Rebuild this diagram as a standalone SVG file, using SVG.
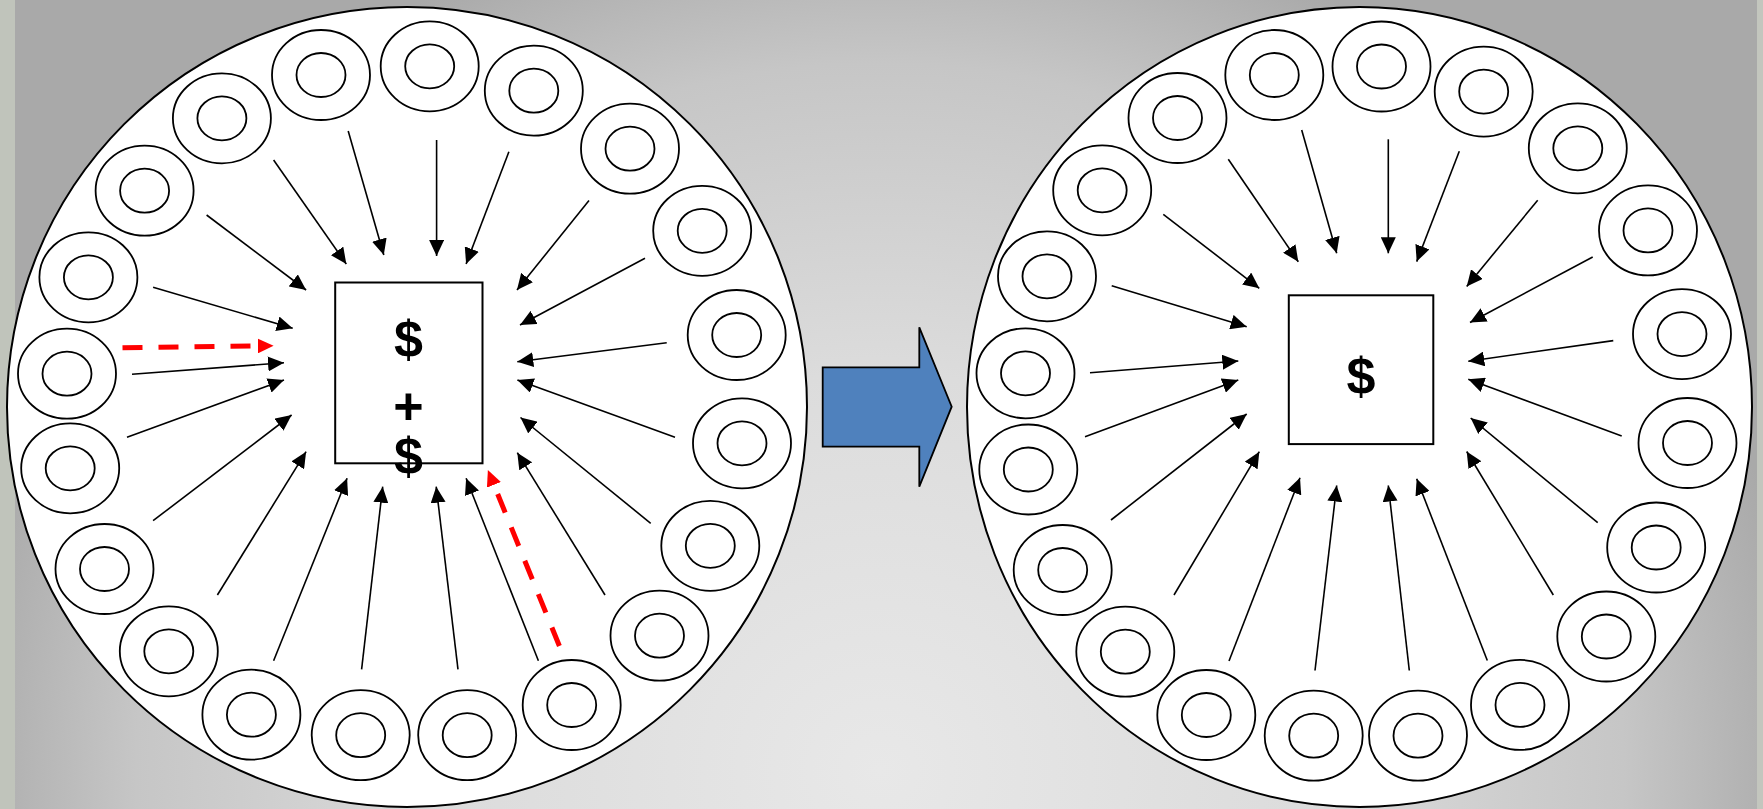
<svg xmlns="http://www.w3.org/2000/svg" xmlns:xlink="http://www.w3.org/1999/xlink" width="1763" height="809" viewBox="0 0 1763 809">
  <style>
    .disc { fill: #ffffff; stroke: #000000; stroke-width: 2; }
    .ring ellipse { fill: #ffffff; stroke: #000000; stroke-width: 1.8; }
    .box { fill: #ffffff; stroke: #000000; stroke-width: 2; }
    .arrow { stroke: #000000; stroke-width: 1.6; fill: none; marker-end: url(#ah); }
    .flow { stroke: #ff0000; stroke-width: 5; stroke-dasharray: 20 16; fill: none; marker-end: url(#ah-red); }
    .label { font-family: "Liberation Sans", Arial, sans-serif; font-weight: bold; font-size: 52px; fill: #000000; text-anchor: middle; }
    .shift { fill: #4f81bd; stroke: #000000; stroke-width: 1.8; stroke-linejoin: miter; }
  </style>
  <defs>
    <radialGradient id="bgGrad" gradientUnits="userSpaceOnUse" cx="880" cy="770" r="930" gradientTransform="translate(880 770) scale(1 0.95) translate(-880 -770)">
      <stop offset="0" stop-color="#e8e8e8"/>
      <stop offset="0.45" stop-color="#dcdcdc"/>
      <stop offset="0.8" stop-color="#c6c6c6"/>
      <stop offset="1" stop-color="#a9a9a9"/>
    </radialGradient>
    <marker id="ah" viewBox="0 0 16 15" refX="16" refY="7.5" markerWidth="16" markerHeight="15" markerUnits="userSpaceOnUse" orient="auto">
      <path d="M0,0 L16,7.5 L0,15 z" fill="#000000"/>
    </marker>
    <marker id="ah-red" viewBox="0 0 16 15" refX="4" refY="7.5" markerWidth="16" markerHeight="15" markerUnits="userSpaceOnUse" orient="auto">
      <path d="M0,0 L16,7.5 L0,15 z" fill="#ff0000"/>
    </marker>
    <g id="ring" class="ring">
      <ellipse cx="0" cy="0" rx="49" ry="45"/>
      <ellipse cx="0" cy="0" rx="24.5" ry="22"/>
    </g>
  </defs>

  <!-- backdrop -->
  <rect x="0" y="0" width="1763" height="809" fill="url(#bgGrad)"/>
  <rect x="0" y="0" width="15" height="809" fill="#c0c4bb"/>
  <rect x="1757" y="0" width="6" height="809" fill="#c3c6be"/>

  <!-- before: two amounts held in the middle -->
  <g id="left-disc">
    <ellipse class="disc" cx="407" cy="407" rx="400" ry="400"/>
  </g>
  <g id="left-rings">
    <g id="l-ring-01"><use xlink:href="#ring" x="67" y="373.7"/></g>
    <g id="l-ring-02"><use xlink:href="#ring" x="88.4" y="277.3"/></g>
    <g id="l-ring-03"><use xlink:href="#ring" x="144.6" y="190.7"/></g>
    <g id="l-ring-04"><use xlink:href="#ring" x="221.9" y="118.3"/></g>
    <g id="l-ring-05"><use xlink:href="#ring" x="321" y="75"/></g>
    <g id="l-ring-06"><use xlink:href="#ring" x="429.7" y="66.3"/></g>
    <g id="l-ring-07"><use xlink:href="#ring" x="533.8" y="90.7"/></g>
    <g id="l-ring-08"><use xlink:href="#ring" x="630" y="148.7"/></g>
    <g id="l-ring-09"><use xlink:href="#ring" x="702.2" y="230.8"/></g>
    <g id="l-ring-10"><use xlink:href="#ring" x="736.7" y="335"/></g>
    <g id="l-ring-11"><use xlink:href="#ring" x="742" y="443.3"/></g>
    <g id="l-ring-12"><use xlink:href="#ring" x="710.3" y="545.8"/></g>
    <g id="l-ring-13"><use xlink:href="#ring" x="659.5" y="635.7"/></g>
    <g id="l-ring-14"><use xlink:href="#ring" x="571.7" y="705"/></g>
    <g id="l-ring-15"><use xlink:href="#ring" x="467.2" y="735.2"/></g>
    <g id="l-ring-16"><use xlink:href="#ring" x="360.7" y="735.2"/></g>
    <g id="l-ring-17"><use xlink:href="#ring" x="251.4" y="714.7"/></g>
    <g id="l-ring-18"><use xlink:href="#ring" x="168.8" y="651.3"/></g>
    <g id="l-ring-19"><use xlink:href="#ring" x="104.5" y="569"/></g>
    <g id="l-ring-20"><use xlink:href="#ring" x="70.2" y="468.3"/></g>
  </g>
  <g id="left-box">
    <rect class="box" x="335.2" y="282.5" width="147.3" height="180.8"/>
    <text class="label" x="408.5" y="357"><tspan x="408.5" y="357">$</tspan><tspan x="408.5" y="423.5">+</tspan><tspan x="408.5" y="473.5">$</tspan></text>
  </g>
  <g id="left-connectors">
    <line class="arrow" x1="206.6" y1="215" x2="306.1" y2="290"/>
    <line class="arrow" x1="273.6" y1="160" x2="346.3" y2="264"/>
    <line class="arrow" x1="348.2" y1="131" x2="383.8" y2="255"/>
    <line class="arrow" x1="436.6" y1="140" x2="436.6" y2="256"/>
    <line class="arrow" x1="508.9" y1="151.7" x2="466.1" y2="264"/>
    <line class="arrow" x1="589" y1="200.5" x2="517" y2="290"/>
    <line class="arrow" x1="645" y1="258.3" x2="520" y2="325"/>
    <line class="arrow" x1="666.7" y1="342.7" x2="517.3" y2="361.7"/>
    <line class="arrow" x1="675" y1="437.3" x2="517.4" y2="380"/>
    <line class="arrow" x1="650.7" y1="523.3" x2="520.5" y2="417.5"/>
    <line class="arrow" x1="605" y1="595" x2="517.3" y2="452.7"/>
    <line class="arrow" x1="538.4" y1="660.7" x2="466.1" y2="478.3"/>
    <line class="arrow" x1="458" y1="669.3" x2="436.2" y2="486.7"/>
    <line class="arrow" x1="361.6" y1="669.3" x2="382.7" y2="486.7"/>
    <line class="arrow" x1="273.6" y1="660.7" x2="347.1" y2="478.3"/>
    <line class="arrow" x1="217.4" y1="595" x2="306.1" y2="451.7"/>
    <line class="arrow" x1="153.1" y1="520.7" x2="291.6" y2="415"/>
    <line class="arrow" x1="127" y1="437.3" x2="284" y2="380"/>
    <line class="arrow" x1="132" y1="374.3" x2="284" y2="362.7"/>
    <line class="arrow" x1="153.1" y1="287.3" x2="292.7" y2="328.3"/>
    <line class="flow" x1="122.5" y1="347.7" x2="261.6" y2="345.9"/>
    <line class="flow" x1="559.4" y1="646" x2="492.4" y2="481.1"/>
  </g>

  <!-- transition -->
  <g id="shift-arrow">
    <polygon class="shift" points="822.7,367.3 919.3,367.3 919.3,327.3 951.7,406.7 919.3,486.7 919.3,446.7 822.7,446.7"/>
  </g>

  <!-- after: a single amount held in the middle -->
  <g id="right-disc">
    <ellipse class="disc" cx="1359.5" cy="407" rx="392.5" ry="400"/>
  </g>
  <g id="right-rings">
    <g id="r-ring-01"><use xlink:href="#ring" x="1025.5" y="373.3"/></g>
    <g id="r-ring-02"><use xlink:href="#ring" x="1047" y="276.3"/></g>
    <g id="r-ring-03"><use xlink:href="#ring" x="1102.2" y="190.3"/></g>
    <g id="r-ring-04"><use xlink:href="#ring" x="1177.5" y="118"/></g>
    <g id="r-ring-05"><use xlink:href="#ring" x="1274.3" y="75"/></g>
    <g id="r-ring-06"><use xlink:href="#ring" x="1381.5" y="66.5"/></g>
    <g id="r-ring-07"><use xlink:href="#ring" x="1483.7" y="91.6"/></g>
    <g id="r-ring-08"><use xlink:href="#ring" x="1577.8" y="148.3"/></g>
    <g id="r-ring-09"><use xlink:href="#ring" x="1648" y="230.4"/></g>
    <g id="r-ring-10"><use xlink:href="#ring" x="1682" y="334.1"/></g>
    <g id="r-ring-11"><use xlink:href="#ring" x="1687.5" y="443"/></g>
    <g id="r-ring-12"><use xlink:href="#ring" x="1656.2" y="547.5"/></g>
    <g id="r-ring-13"><use xlink:href="#ring" x="1606.3" y="636.5"/></g>
    <g id="r-ring-14"><use xlink:href="#ring" x="1520" y="704.9"/></g>
    <g id="r-ring-15"><use xlink:href="#ring" x="1418" y="735.7"/></g>
    <g id="r-ring-16"><use xlink:href="#ring" x="1313.7" y="735.7"/></g>
    <g id="r-ring-17"><use xlink:href="#ring" x="1206.3" y="715"/></g>
    <g id="r-ring-18"><use xlink:href="#ring" x="1125.3" y="651.7"/></g>
    <g id="r-ring-19"><use xlink:href="#ring" x="1062.7" y="570"/></g>
    <g id="r-ring-20"><use xlink:href="#ring" x="1028.3" y="469.5"/></g>
  </g>
  <g id="right-box">
    <rect class="box" x="1288.8" y="295.3" width="144.5" height="148.8"/>
    <text class="label" x="1361" y="394">$</text>
  </g>
  <g id="right-connectors">
    <line class="arrow" x1="1163.3" y1="214.3" x2="1259.3" y2="288.3"/>
    <line class="arrow" x1="1228.3" y1="159.3" x2="1298.3" y2="261.7"/>
    <line class="arrow" x1="1301.7" y1="130" x2="1336.7" y2="253.3"/>
    <line class="arrow" x1="1388.3" y1="139.3" x2="1388.3" y2="253.3"/>
    <line class="arrow" x1="1459.3" y1="151.2" x2="1416.7" y2="261.6"/>
    <line class="arrow" x1="1537.7" y1="200.2" x2="1466.7" y2="286.4"/>
    <line class="arrow" x1="1592.7" y1="257" x2="1470" y2="322.5"/>
    <line class="arrow" x1="1613.3" y1="340.6" x2="1468.3" y2="361.2"/>
    <line class="arrow" x1="1621.7" y1="436" x2="1468.3" y2="379.3"/>
    <line class="arrow" x1="1597.7" y1="522.7" x2="1470.7" y2="418"/>
    <line class="arrow" x1="1553.3" y1="595" x2="1466.7" y2="451.5"/>
    <line class="arrow" x1="1487.3" y1="660.5" x2="1416.7" y2="478.8"/>
    <line class="arrow" x1="1409.3" y1="670.5" x2="1388.3" y2="485.5"/>
    <line class="arrow" x1="1315" y1="670.5" x2="1336.7" y2="485.5"/>
    <line class="arrow" x1="1229" y1="661" x2="1300" y2="477.7"/>
    <line class="arrow" x1="1174" y1="595" x2="1259.3" y2="451.7"/>
    <line class="arrow" x1="1111" y1="520" x2="1246.7" y2="414"/>
    <line class="arrow" x1="1085" y1="436.7" x2="1238.3" y2="380"/>
    <line class="arrow" x1="1090" y1="372.7" x2="1238.3" y2="361"/>
    <line class="arrow" x1="1111.7" y1="285.7" x2="1246.7" y2="326.7"/>
  </g>
</svg>
